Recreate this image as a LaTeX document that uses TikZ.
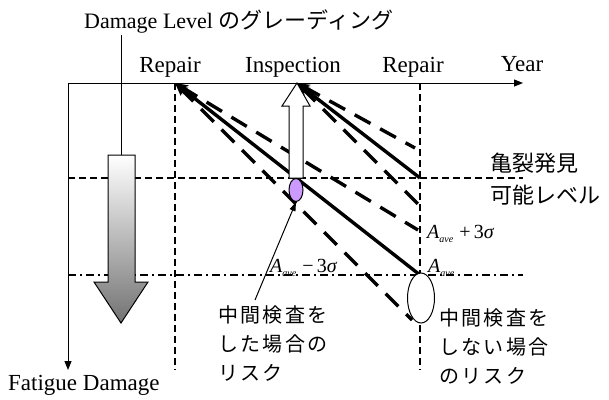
\documentclass[tikz,border=0pt]{standalone}
\usepackage{fontspec}
\setmainfont{Liberation Serif}
\newfontfamily\jp{Noto Sans CJK JP}
\newfontfamily\jpsp[LetterSpace=12]{Noto Sans CJK JP}
\usetikzlibrary{arrows.meta,shapes.geometric}
\begin{document}
\begin{tikzpicture}[x=1pt,y=-1pt,
  axis/.style={line width=1pt,-{Triangle[length=9pt,width=7pt]}},
  thindash/.style={line width=1.2pt,dash pattern=on 6.5pt off 4.5pt},
  dashdot/.style={line width=1.2pt,dash pattern=on 8pt off 4pt on 2pt off 4pt},
  fansolid/.style={line width=3.4pt,{Stealth[length=13pt,width=10pt]}-},
  fandash/.style={line width=3.4pt,dash pattern=on 18pt off 11pt,{Stealth[length=13pt,width=10pt]}-},
  lat/.style={font=\fontsize{23}{25}\selectfont,inner sep=0pt},
  jtext/.style={font=\jpsp\fontsize{20}{29}\selectfont,inner sep=0pt,align=left,anchor=north west},
  every node/.style={inner sep=0pt}
]
\useasboundingbox (0,0) rectangle (609,399);
% title
\node[anchor=west,font=\fontsize{22}{24}\selectfont] (title) at (84,22) {Damage Level {\jp\fontsize{22}{24}\selectfont のグレーディング}};
\coordinate (tstart) at (121,35);
\coordinate (tend) at (121,178);
\draw[line width=1pt,-{Triangle[length=9pt,width=7pt]}] (tstart) -- (tend);
% axes
\coordinate (O) at (68,83);
\coordinate (xend) at (523,83);
\coordinate (yend) at (68,370);
\draw[axis] (O) -- (xend);
\draw[axis] (O) -- (yend);
\node[lat] (rep1) at (170,67) {Repair};
\node[lat] (insp) at (293,67) {Inspection};
\node[lat] (rep2) at (413,67) {Repair};
\node[lat] (year) at (522,64) {Year};
\node[lat,anchor=west] (fat) at (8,385) {Fatigue Damage};
% points
\coordinate (R1) at (175,83);
\coordinate (I) at (297,83);
\coordinate (R2) at (420,83);
% grid lines
\coordinate (v1b) at (175,370);
\coordinate (v2b) at (420,370);
\draw[thindash] (R1) -- (v1b);
\draw[thindash] (R2) -- (v2b);
\coordinate (h1a) at (68,178); \coordinate (h1b) at (523,178);
\draw[thindash] (h1a) -- (h1b);
\coordinate (h2a) at (68,275); \coordinate (h2b) at (523,275);
\draw[dashdot] (h2a) -- (h2b);
% gradient block arrow
\shade[top color=white,bottom color=black!55,draw=black,line width=1pt]
  (108,155) -- (135,155) -- (135,282) -- (148,282) -- (121,323) -- (94,282) -- (108,282) -- cycle;
% fans from inspection
\coordinate (Is) at (420,178);
\coordinate (Iu) at (415,148);
\coordinate (Il) at (418,204);
\draw[fandash] (I) -- (Iu);
\draw[fandash] (I) -- (Il);
\draw[fansolid] (I) -- (Is);
% fans from repair
\coordinate (Rs) at (420,275);
\coordinate (Ru) at (418,230);
\coordinate (Rl) at (412,320);
\draw[fandash] (R1) -- (Ru);
\draw[fandash] (R1) -- (Rl);
\draw[fansolid] (R1) -- (Rs);
% hollow arrow
\draw[fill=white,line width=1pt] (289,178) -- (289,106) -- (282,106) -- (I) -- (310,106) -- (303,106) -- (303,178) -- cycle;
% ellipses
\node[draw,line width=1pt,fill={rgb,255:red,204;green,153;blue,255},ellipse,minimum width=14pt,minimum height=23pt] (pe) at (296,190) {};
\node[draw,line width=1pt,fill=white,ellipse,minimum width=27pt,minimum height=50pt] (be) at (421,298) {};
\coordinate (pstart) at (255,300);
\draw[line width=1pt,-{Triangle[length=9pt,width=6pt]}] (pstart) -- (pe.south);
% sigma labels
\node[anchor=base west,font=\fontsize{20}{22}\selectfont] (ap) at (427,238) {\textit{A}\raisebox{-4pt}{\fontsize{10}{10}\selectfont\textit{ave}}\hspace{6pt}+\,3\textit{σ}};
\node[anchor=base west,font=\fontsize{20}{22}\selectfont] (am) at (270,272) {\textit{A}\raisebox{-4pt}{\fontsize{10}{10}\selectfont\textit{ave}}\hspace{6pt}−\,3\textit{σ}};
\node[anchor=base west,font=\fontsize{20}{22}\selectfont] (aa) at (428,272) {\textit{A}\raisebox{-4pt}{\fontsize{10}{10}\selectfont\textit{ave}}};
% japanese texts
\node[anchor=west,font=\jp\fontsize{22}{32}\selectfont,align=left] (crack) at (490,179) {亀裂発見\\可能レベル};
\node[jtext] (left) at (218,305) {中間検査を\\した場合の\\リスク};
\node[jtext] (right) at (439,308) {中間検査を\\しない場合\\のリスク};
\end{tikzpicture}
\end{document}
